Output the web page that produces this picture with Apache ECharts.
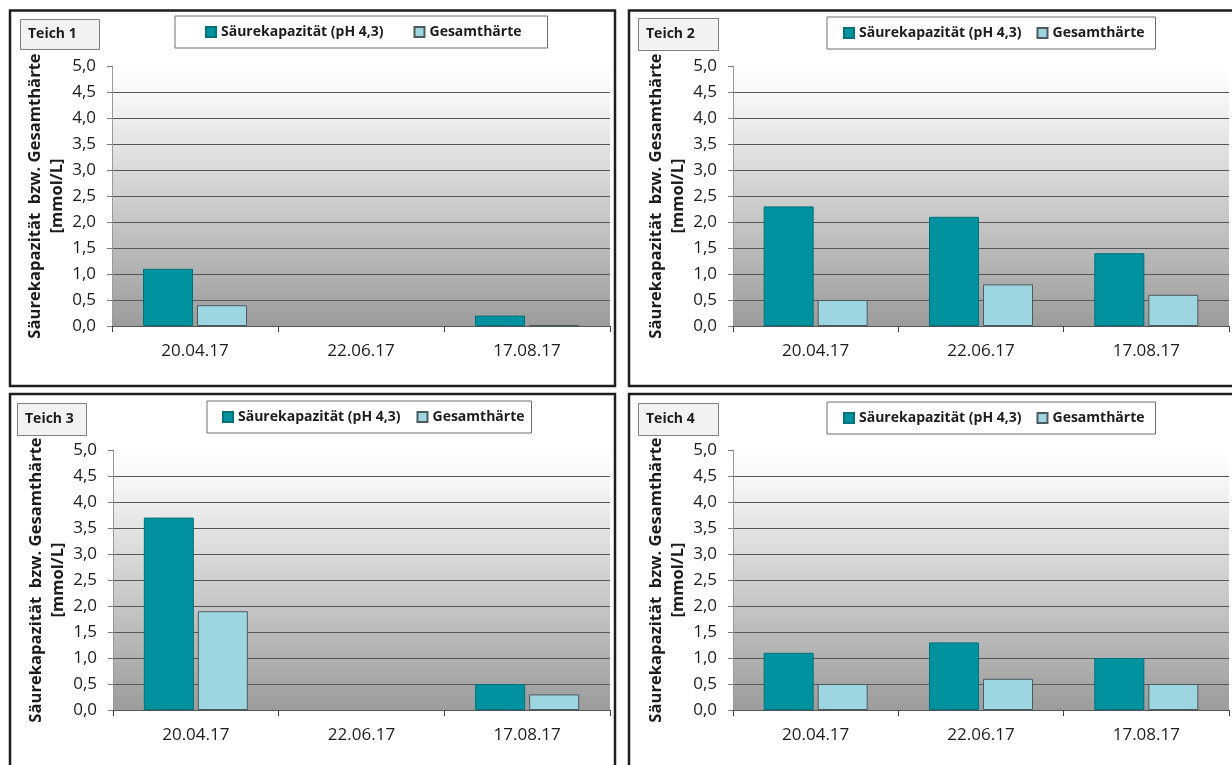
<!DOCTYPE html>
<html>
<head>
<meta charset="utf-8">
<script src="https://cdn.jsdelivr.net/npm/echarts@6/dist/echarts.min.js"></script>
<style>
  html, body { margin: 0; padding: 0; background: #ffffff; }
  #chart { width: 1232px; height: 765px; }
</style>
</head>
<body>
<div id="chart"></div>
<script>
// Sampling dates (x categories)
const categories = ['20.04.17', '22.06.17', '17.08.17'];
// Series names
const seriesNames = ['Säurekapazität (pH 4,3)', 'Gesamthärte'];
// Pond labels
const pondNames = ['Teich 1', 'Teich 2', 'Teich 3', 'Teich 4'];

// Säurekapazität (pH 4,3) per pond, mmol/L (null = no measurement)
const acid1 = [1.1, null, 0.2];
const acid2 = [2.3, 2.1, 1.4];
const acid3 = [3.7, null, 0.5];
const acid4 = [1.1, 1.3, 1.0];

// Gesamthärte per pond, mmol/L
const hard1 = [0.4, null, 0.02];
const hard2 = [0.5, 0.8, 0.6];
const hard3 = [1.9, null, 0.3];
const hard4 = [0.5, 0.6, 0.5];

// Value axis tick labels (German decimal comma)
const yTickLabels = ['0,0', '0,5', '1,0', '1,5', '2,0', '2,5', '3,0', '3,5', '4,0', '4,5', '5,0'];
const yMin = 0, yMax = 5, yStep = 0.5;

const yTitle = 'Säurekapazität  bzw. Gesamthärte\n[mmol/L]';

const acidSets = [acid1, acid2, acid3, acid4];
const hardSets = [hard1, hard2, hard3, hard4];

// Panel layout
const panels = [
  { frame: [10, 10.5, 605, 375.5], grid: { left: 112, top: 66, width: 498, height: 260 },
    tbox: [20, 19, 79, 30], legend: { left: 175, top: 16, padding: [9, 26, 9, 30], itemGap: 30 } },
  { frame: [629, 10.5, 640, 375.5], grid: { left: 733, top: 66, width: 496, height: 260 },
    tbox: [638, 18, 80, 32], legend: { left: 827, top: 17, padding: [9, 11, 9, 16], itemGap: 15 } },
  { frame: [10, 394, 605, 400], grid: { left: 113, top: 450, width: 497, height: 260 },
    tbox: [17, 403, 69, 32], legend: { left: 207, top: 401, padding: [9, 7, 9, 15], itemGap: 16 } },
  { frame: [629, 394, 640, 400], grid: { left: 733, top: 450, width: 496, height: 260 },
    tbox: [638, 403, 80, 32], legend: { left: 827, top: 402, padding: [9, 11, 9, 16], itemGap: 15 } }
];

const FONT = '"Open Sans", "Noto Sans", sans-serif';
const TEXT = '#1c1c1c';

const DARK = { color: '#00929e', borderColor: '#00727b', borderWidth: 1 };
const LIGHT = { color: '#9dd6e0', borderColor: '#4b5b60', borderWidth: 1 };

const grids = [], xAxes = [], yAxes = [], series = [], legends = [], graphics = [];

panels.forEach((p, i) => {
  grids.push({
    left: p.grid.left, top: p.grid.top, width: p.grid.width, height: p.grid.height,
    show: true, borderWidth: 0,
    backgroundColor: new echarts.graphic.LinearGradient(0, 0, 0, 1, [
      { offset: 0, color: '#ffffff' },
      { offset: 0.12, color: '#f6f6f6' },
      { offset: 1, color: '#9c9c9c' }
    ])
  });
  xAxes.push({
    type: 'category', gridIndex: i, data: categories,
    axisLine: { lineStyle: { color: '#555555', width: 1 } },
    axisTick: { show: true, length: 6, lineStyle: { color: '#444444' } },
    axisLabel: { fontFamily: FONT, fontSize: 17, color: TEXT, margin: 17 }
  });
  yAxes.push({
    type: 'value', gridIndex: i, min: yMin, max: yMax, interval: yStep,
    name: yTitle, nameLocation: 'middle', nameRotate: 90, nameGap: 44,
    nameTextStyle: { fontFamily: FONT, fontSize: 16.6, fontWeight: 'bold', color: TEXT, lineHeight: 22 },
    axisLine: { show: true, lineStyle: { color: '#9a9a9a' } },
    axisTick: { show: true, length: 5, lineStyle: { color: '#7a7a7a' } },
    axisLabel: {
      fontFamily: FONT, fontSize: 17, color: TEXT, margin: 16,
      formatter: v => yTickLabels[Math.round((v - yMin) / yStep)]
    },
    splitLine: { show: true, showMaxLine: false, lineStyle: { color: '#565656', width: 1 } }
  });
  series.push({
    type: 'bar', name: seriesNames[0], xAxisIndex: i, yAxisIndex: i,
    data: acidSets[i], barWidth: 50, barGap: '8%', itemStyle: DARK
  });
  series.push({
    type: 'bar', name: seriesNames[1], xAxisIndex: i, yAxisIndex: i,
    data: hardSets[i], barWidth: 50, barGap: '8%', itemStyle: LIGHT
  });
  legends.push({
    data: seriesNames, left: p.legend.left, top: p.legend.top, padding: p.legend.padding,
    itemGap: p.legend.itemGap, itemWidth: 10, itemHeight: 10, icon: 'rect',
    backgroundColor: '#ffffff', borderColor: '#6e6e6e', borderWidth: 1,
    textStyle: { fontFamily: FONT, fontSize: 14, fontWeight: 'bold', color: TEXT },
    selectedMode: false
  });
  graphics.push({
    type: 'rect', silent: true, z: 100,
    shape: { x: p.frame[0], y: p.frame[1], width: p.frame[2], height: p.frame[3] },
    style: { fill: 'none', stroke: '#1e1e1e', lineWidth: 2.5 }
  });
  graphics.push({
    type: 'rect', silent: true, z: 100,
    shape: { x: p.tbox[0] + 0.5, y: p.tbox[1] + 0.5, width: p.tbox[2], height: p.tbox[3] },
    style: { fill: '#f2f2f2', stroke: '#808080', lineWidth: 1 }
  });
  graphics.push({
    type: 'text', silent: true, z: 101,
    x: p.tbox[0] + 8, y: p.tbox[1] + p.tbox[3] / 2 + 0.5,
    style: { text: pondNames[i], fontFamily: FONT, fontSize: 14, fontWeight: 'bold', fill: TEXT, verticalAlign: 'middle' }
  });
});

const chart = echarts.init(document.getElementById('chart'), null, { renderer: 'canvas' });
chart.setOption({
  animation: false,
  backgroundColor: '#ffffff',
  grid: grids,
  xAxis: xAxes,
  yAxis: yAxes,
  series: series,
  legend: legends,
  graphic: { elements: graphics }
});
</script>
</body>
</html>
